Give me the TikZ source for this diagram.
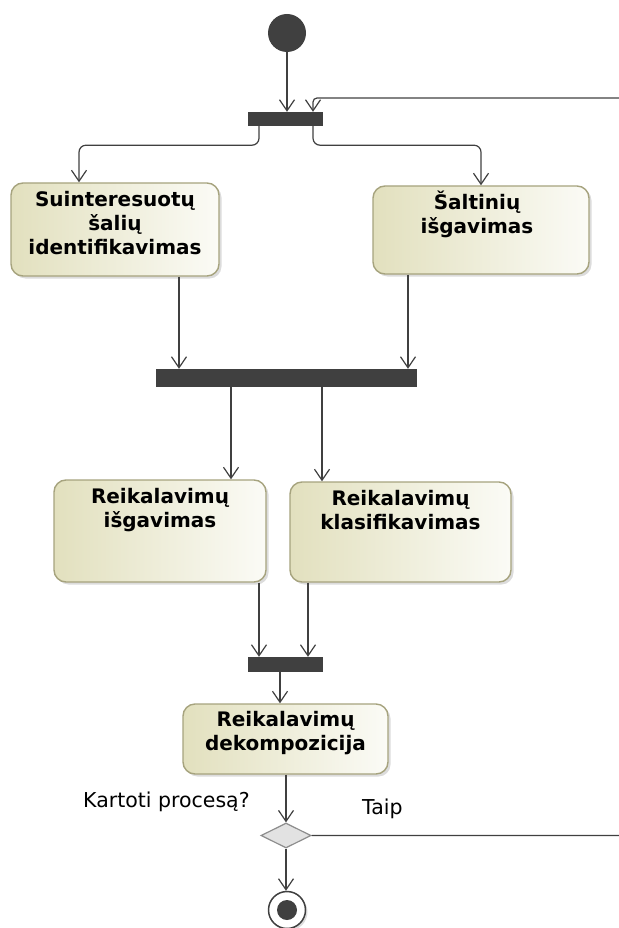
\documentclass[tikz,border=0pt]{standalone}
\usepackage{fontspec}
\setmainfont{DejaVu Sans}
\usetikzlibrary{arrows.meta,shapes.geometric,shadows}
\definecolor{ink}{HTML}{404040}
\definecolor{boxL}{HTML}{E2E0BE}
\definecolor{boxR}{HTML}{FBFBF6}
\definecolor{boxB}{HTML}{A6A37E}
\definecolor{diaF}{HTML}{E2E2E2}
\definecolor{diaB}{HTML}{8C8C8C}
\begin{document}
\begin{tikzpicture}[x=1pt,y=-1pt,
  act/.style={draw=boxB, line width=1.4pt, rounded corners=12pt, left color=boxL, right color=boxR, inner sep=0,
    drop shadow={shadow xshift=2.5pt, shadow yshift=-2.5pt, opacity=0.3, fill=black!45}},
  acttext/.style={font=\fontsize{20}{24}\selectfont\bfseries, align=center, inner sep=0, anchor=north},
  lbl/.style={font=\fontsize{20.5}{24}\selectfont, inner sep=0, anchor=base west},
  bar/.style={fill=ink, draw=none, inner sep=0},
  flow/.style={draw=ink, line width=1.2pt, -{Straight Barb[length=11pt,width=15pt]}, rounded corners=7pt}
]
\useasboundingbox (0,0) rectangle (618,928);

% start
\node[circle, fill=ink, minimum size=38pt, inner sep=0] (st) at (287,33) {};

% bars
\node[bar, minimum width=75pt, minimum height=14pt] (b1) at (285.5,119) {};
\node[bar, minimum width=261pt, minimum height=18pt] (b2) at (286.5,378) {};
\node[bar, minimum width=75pt, minimum height=15pt] (b3) at (285.5,664.5) {};

% actions
\node[act, minimum width=208pt, minimum height=93pt] (A) at (115,229.5) {};
\node[acttext] (At) at ([yshift=-5.5pt]A.north) {\vphantom{Š}Suinteresuotų\\šalių\\identifikavimas};
\node[act, minimum width=216pt, minimum height=88pt] (B) at (481,230) {};
\node[acttext] (Bt) at ([xshift=-4pt,yshift=-5.5pt]B.north) {\vphantom{Š}Šaltinių\\išgavimas};
\node[act, minimum width=212pt, minimum height=102pt] (C) at (160,531) {};
\node[acttext] (Ct) at ([yshift=-5.5pt]C.north) {\vphantom{Š}Reikalavimų\\išgavimas};
\node[act, minimum width=221pt, minimum height=100pt] (D) at (400.5,532) {};
\node[acttext] (Dt) at ([yshift=-5.5pt]D.north) {\vphantom{Š}Reikalavimų\\klasifikavimas};
\node[act, minimum width=205pt, minimum height=70pt] (E) at (285.5,739) {};
\node[acttext] (Et) at ([yshift=-4.5pt]E.north) {\vphantom{Š}Reikalavimų\\dekompozicija};

% decision and final
\node[diamond, aspect=2, draw=diaB, fill=diaF, line width=1.2pt, minimum width=50pt, minimum height=25pt, inner sep=0] (dia) at (286,835.5) {};
\node[circle, draw=ink, fill=white, line width=1.5pt, minimum size=37pt, inner sep=0,
  drop shadow={shadow xshift=2pt, shadow yshift=-2pt, opacity=0.3, fill=black!45}] (fin) at (287,910) {};
\node[circle, fill=ink, minimum size=20pt, inner sep=0] (fin2) at (fin) {};

% labels
\node[lbl] (q) at (83,807) {Kartoti procesą?};
\node[lbl] (taip) at (362,814) {Taip};

% connectors
\coordinate (lr) at (660,835.5);
\coordinate (lt) at (660,98);
\draw[flow] (st.south) -- (st.south |- b1.north);
\draw[flow, rounded corners=4pt] (dia.east) -- (lr) -- (lt) -| ([xshift=27.5pt]b1.north);
\draw[flow] ([xshift=-26.5pt]b1.south) -- ++(0,19) -| ([xshift=-36pt]A.north);
\draw[flow] ([xshift=27.5pt]b1.south) -- ++(0,19) -| (B.north);
\draw[flow] ([xshift=64pt]A.south) -- ([xshift=64pt]A.south |- b2.north);
\draw[flow] ([xshift=-73pt]B.south) -- ([xshift=-73pt]B.south |- b2.north);
\draw[flow] ([xshift=-55.5pt]b2.south) -- ([xshift=-55.5pt]b2.south |- C.north);
\draw[flow] ([xshift=35.5pt]b2.south) -- ([xshift=35.5pt]b2.south |- D.north);
\draw[flow] ([xshift=99pt]C.south) -- ([xshift=99pt]C.south |- b3.north);
\draw[flow] ([xshift=-92.5pt]D.south) -- ([xshift=-92.5pt]D.south |- b3.north);
\draw[flow] ([xshift=-5.5pt]b3.south) -- ([xshift=-5.5pt]b3.south |- E.north);
\draw[flow] (dia.north |- E.south) -- (dia.north);
\draw[flow] (dia.south) -- (dia.south |- fin.north);
\end{tikzpicture}
\end{document}
